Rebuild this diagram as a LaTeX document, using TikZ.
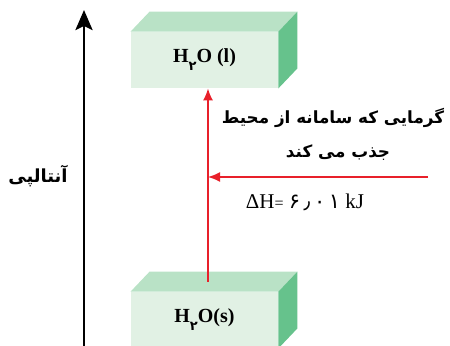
\documentclass[tikz,border=0pt]{standalone}
\usepackage{fontspec}
\setmainfont{Liberation Serif}
\newfontfamily\farsi[Script=Arabic]{DejaVu Sans}
\TeXXeTstate=1
\usetikzlibrary{arrows.meta,positioning}
\definecolor{frontfill}{HTML}{E1F1E4}
\definecolor{topfill}{HTML}{B9E2C6}
\definecolor{sidefill}{HTML}{66C28C}
\definecolor{heatred}{HTML}{E8202A}
\tikzset{
 level/.style={fill=frontfill,minimum width=73.5pt,minimum height=28pt,inner sep=0pt,font=\fontsize{10}{12}\selectfont\bfseries},
 axis/.style={-{Stealth[length=10pt,width=8.5pt,inset=2pt]},line width=1.4pt},
 heat/.style={-{Latex[length=6pt,width=5pt]},draw=heatred,line width=.8pt},
 fa/.style={font=\farsi\bfseries\fontsize{8.4}{10}\selectfont,inner sep=1pt},
}
% top and side faces of a slab
\newcommand{\slab}[1]{%
 \fill[topfill] (#1.north west) -- ++(9.5pt,10pt) -- ([shift={(9.5pt,10pt)}]#1.north east) -- (#1.north east) -- cycle;
 \fill[sidefill] (#1.north east) -- ++(9.5pt,10pt) -- ([shift={(9.5pt,10pt)}]#1.south east) -- (#1.south east) -- cycle;}
\newcommand{\sub}{\raisebox{-4pt}{\farsi\fontsize{6.5}{8}\selectfont ۲}}

\begin{document}
\begin{tikzpicture}[x=.5pt,y=-.5pt]

\useasboundingbox (0,0) rectangle (450,346);
\node[level] (liquid) at (204.5,60) {H\sub O (l)};
\node[level] (solid) at (204.5,320) {H\sub O(s)};
\slab{liquid}
\slab{solid}
\coordinate (base) at (84,346);
\coordinate (peak) at (84,10);
\draw[axis] (base) -- (peak);
\node[fa,font=\farsi\bfseries\fontsize{9}{11}\selectfont] (enthalpy) at (38,176) {\beginR آنتالپی\endR};
\coordinate (melt) at (208,282);
\draw[heat] (melt) -- (melt |- liquid.south);
\coordinate (source) at (428,177);
\draw[heat] (source) -- (source -| melt);
\node[fa] (gain) at (333,118) {\beginR گرمایی که سامانه از محیط\endR};
\node[fa] (absorb) at (338,153) {\beginR جذب می کند\endR};
\node[font=\fontsize{10.5}{12}\selectfont] (dh) at (305,202) {ΔH{\footnotesize=} {\farsi ۶\,٫\,۰\,۱} kJ};

\end{tikzpicture}
\end{document}
